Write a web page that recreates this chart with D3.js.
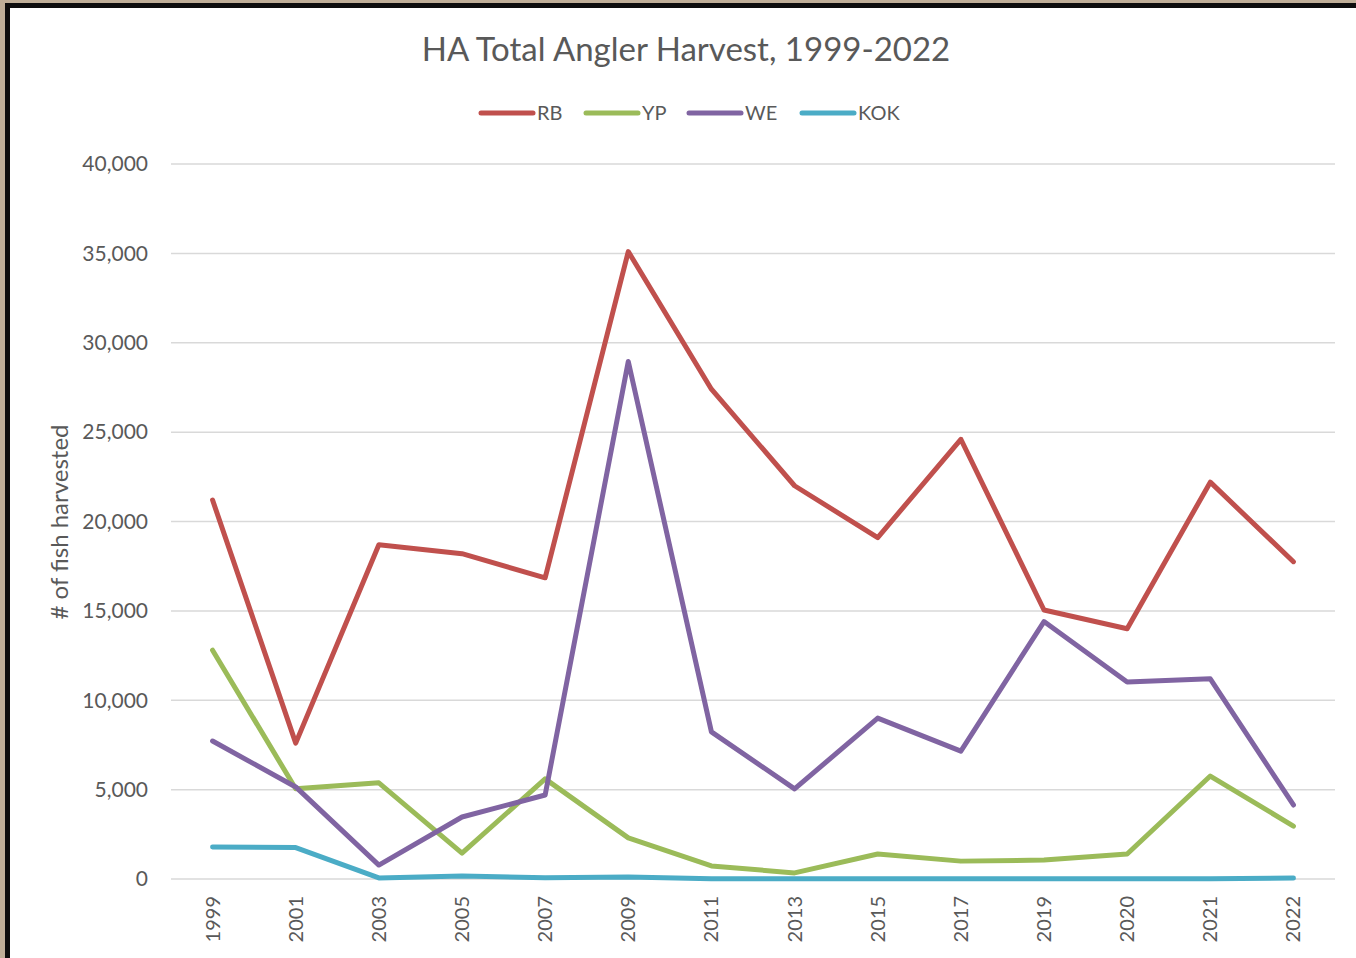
<!DOCTYPE html>
<html lang="en">
<head>
    <meta charset="UTF-8">
    <title>HA Total Angler Harvest</title>
    <script src="https://d3js.org/d3.v7.min.js"></script>
    <style>
        * { margin: 0; padding: 0; box-sizing: border-box; }
        html, body { width: 1356px; height: 958px; overflow: hidden; background: #bfae98; }
        svg { display: block; }
        text { font-family: Lato, "Open Sans", sans-serif; fill: #595959; }
    </style>
</head>
<body>
<svg id="chart" width="1356" height="958"></svg>
<script>
    const years = ["1999", "2001", "2003", "2005", "2007", "2009", "2011", "2013", "2015", "2017", "2019", "2020", "2021", "2022"]
    const rb = [21200, 7600, 18700, 18200, 16850, 35100, 27400, 22000, 19100, 24600, 15050, 14000, 22200, 17750]
    const yp = [12800, 5050, 5380, 1450, 5600, 2300, 730, 340, 1400, 1000, 1060, 1400, 5760, 2960]
    const we = [7720, 5150, 780, 3470, 4700, 28950, 8230, 5040, 9000, 7150, 14400, 11020, 11200, 4140]
    const kok = [1790, 1760, 60, 170, 70, 110, 10, 20, 20, 10, 10, 10, 10, 50]
    const seriesNames = ["RB", "YP", "WE", "KOK"]
    const yTicks = [0, 5000, 10000, 15000, 20000, 25000, 30000, 35000, 40000]

    const series = [
        { name: "RB", values: rb, color: "#c0504d" },
        { name: "YP", values: yp, color: "#9bbb59" },
        { name: "WE", values: we, color: "#8064a2" },
        { name: "KOK", values: kok, color: "#4bacc6" },
    ]

    const svg = d3.select("#chart")

    // frame
    svg.append("rect").attr("x", 5).attr("y", 3).attr("width", 1360).attr("height", 960).attr("fill", "#0d0d0d")
    svg.append("rect").attr("x", 10).attr("y", 8).attr("width", 1360).attr("height", 960).attr("fill", "#fff")

    const plot = { left: 171, right: 1335, top: 164, bottom: 879 }

    const x = d3.scalePoint().domain(years).range([plot.left, plot.right]).padding(0.5)
    const y = d3.scaleLinear().domain([0, 40000]).range([plot.bottom, plot.top])

    // gridlines
    svg.append("g")
        .selectAll("line")
        .data(yTicks)
        .join("line")
        .attr("x1", plot.left)
        .attr("x2", plot.right)
        .attr("y1", d => y(d))
        .attr("y2", d => y(d))
        .attr("stroke", "#d9d9d9")
        .attr("stroke-width", 1.5)

    // y axis labels
    svg.append("g")
        .selectAll("text")
        .data(yTicks)
        .join("text")
        .attr("x", 148)
        .attr("y", d => y(d))
        .attr("dy", "0.35em")
        .attr("text-anchor", "end")
        .style("font-size", "21px")
        .text(d3.format(","))

    // x axis labels
    svg.append("g")
        .selectAll("text")
        .data(years)
        .join("text")
        .attr("transform", d => `translate(${x(d)},896) rotate(-90)`)
        .attr("dy", "0.35em")
        .attr("text-anchor", "end")
        .style("font-size", "20px")
        .text(d => d)

    // y axis title
    svg.append("text")
        .attr("transform", "translate(60,522) rotate(-90)")
        .attr("dy", "0.35em")
        .attr("text-anchor", "middle")
        .style("font-size", "24px")
        .text("# of fish harvested")

    // title
    svg.append("text")
        .attr("x", 686)
        .attr("y", 61)
        .attr("text-anchor", "middle")
        .style("font-size", "33px")
        .text("HA Total Angler Harvest, 1999-2022")

    const line = d3.line()
        .x((d, i) => x(years[i]))
        .y(d => y(d))

    svg.append("g")
        .selectAll("path")
        .data(series)
        .join("path")
        .attr("d", d => line(d.values))
        .attr("fill", "none")
        .attr("stroke", d => d.color)
        .attr("stroke-width", 5)
        .attr("stroke-linejoin", "round")
        .attr("stroke-linecap", "round")

    // legend
    const legendX = [481, 586, 689, 802]
    const lg = svg.append("g")
        .selectAll("g")
        .data(series)
        .join("g")
        .attr("transform", (d, i) => `translate(${legendX[i]},113)`)
    lg.append("line")
        .attr("x1", 0).attr("x2", 52)
        .attr("stroke", d => d.color)
        .attr("stroke-width", 5)
        .attr("stroke-linecap", "round")
    lg.append("text")
        .attr("x", 56)
        .attr("dy", "0.35em")
        .style("font-size", "20px")
        .text((d, i) => seriesNames[i])
</script>
</body>
</html>
